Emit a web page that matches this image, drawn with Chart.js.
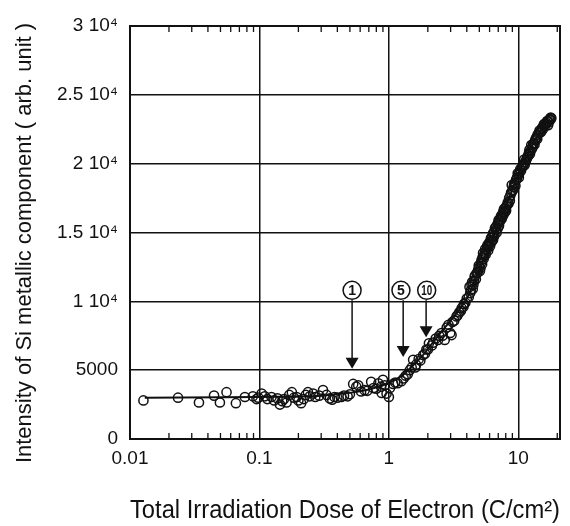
<!DOCTYPE html>
<html>
<head>
<meta charset="utf-8">
<script src="https://cdn.jsdelivr.net/npm/chart.js@4.4.0/dist/chart.umd.min.js"></script>
<style>
  body { margin: 0; background: #fff; }
  #wrap { width: 570px; height: 526px; }
</style>
</head>
<body>
<div id="wrap"><canvas id="myChart"></canvas></div>
<script>
// measured points (dose in C/cm2, intensity in arb. unit)
let doseX = [
  0.0127, 0.0235, 0.0341, 0.0446, 0.0495, 0.0557, 0.0658, 0.0772, 0.089, 0.095, 0.098,
  0.104, 0.11, 0.115, 0.124, 0.13, 0.138, 0.144, 0.15, 0.155, 0.162, 0.17, 0.178, 0.185, 0.194,
  0.2, 0.21, 0.22, 0.228, 0.237, 0.245, 0.26, 0.27, 0.29, 0.31, 0.33, 0.35, 0.365, 0.38, 0.4,
  0.43, 0.45, 0.48, 0.5, 0.53, 0.56, 0.58, 0.61, 0.65, 0.68, 0.73, 0.76, 0.8, 0.83, 0.87, 0.88,
  0.9, 0.93, 0.96, 1.0, 1.02,
  1.08, 1.12, 1.17, 1.25, 1.3, 1.35, 1.4, 1.45, 1.5, 1.54, 1.6, 1.62, 1.7, 1.75, 1.84, 1.9,
  1.95, 2.0, 2.04, 2.15, 2.2, 2.3, 2.4, 2.45, 2.55, 2.6, 2.7, 2.8,
  2.89, 2.98, 3.05, 3.1, 3.2, 3.33, 3.4, 3.5, 3.6, 3.65, 3.77, 3.8, 3.9, 4.0,
  4.14, 4.2, 4.3, 4.4, 4.5, 4.6, 4.7, 4.78, 4.9, 5.0, 5.1, 5.2, 5.3, 5.34, 5.45, 5.55, 5.69,
  5.8, 5.9, 6.0, 6.15, 6.25, 6.38, 6.38, 6.5, 6.6, 6.75, 6.9, 7.0, 7.1, 7.2, 7.35, 7.5, 7.65,
  7.8, 7.95, 8.1, 8.3, 8.5, 8.7, 8.9, 9.0, 9.2, 9.4, 9.6, 9.8, 10.0, 10.2, 10.5, 10.8, 11.0,
  11.2, 11.5, 11.8, 12.1, 12.3, 12.6, 12.9, 13.2, 13.5, 13.8, 14.1, 14.6, 15.0, 15.3, 15.7,
  16.0, 16.5, 16.9, 17.2, 17.5, 17.8,
  4.25, 4.35, 4.45, 4.55, 4.65, 4.85, 4.95, 5.05, 5.15, 5.25, 5.4, 5.5, 5.6, 5.75, 5.85, 5.95,
  6.05, 6.2, 6.3, 6.45, 6.55, 6.7, 6.8, 6.95, 7.05, 7.15, 7.3, 7.45, 7.6, 7.75, 7.9, 8.05,
  8.2, 8.4, 8.6, 8.8, 9.1, 9.3, 9.5, 9.7, 9.9, 10.1, 10.35, 10.6, 10.9, 11.1, 11.35, 11.65,
  11.95, 12.2, 12.45, 12.75, 13.0, 13.35, 13.65, 14.0, 14.35, 14.8, 15.1, 15.5, 15.9, 16.2,
  16.7, 17.0, 17.4, 17.7, 18.0
];
let intensityY = [
  2800, 3000, 2650, 3150, 2650, 3400, 2600, 3050, 3100, 2900, 3000,
  3300, 3100, 2900, 3050, 2800, 2950, 2500, 2750, 2900, 2650, 3200, 3400, 3000, 3050,
  2800, 2600, 2900, 3200, 3400, 3100, 3300, 3050, 3150, 3550, 3200, 2950, 2850, 3050, 3000,
  3050, 3150, 3100, 3250, 4000, 3800, 3900, 3450, 3550, 3500, 4150, 3700, 3650, 4050, 3800, 3350,
  4300, 3900, 3300, 3050, 3700,
  4000, 4100, 4050, 4200, 4400, 4600, 4700, 5000, 5200, 5750, 5200, 5400, 5800, 5700, 6100, 6200,
  6500, 6500, 6950, 6800, 7000, 7300, 7200, 7500, 7700, 7500, 7200, 8100,
  8300, 7700, 7550, 8500, 8600, 8900, 9000, 9200, 9300, 9500, 9600, 9800, 9900, 10200,
  10300, 11050, 10800, 11400, 11200, 11800, 11600, 12050, 12300, 12500, 12400, 13000, 13200, 13500, 13300, 13800, 13750,
  14100, 14000, 14300, 14600, 14400, 14450, 14950, 15000, 15300, 15200, 15600, 15700, 15500, 15900, 16200, 16300, 16500,
  16400, 16800, 16900, 17200, 17500, 17700, 18450, 18000, 18300, 18600, 18800, 19000, 19200, 19300, 19500, 19800, 20000,
  19900, 20250, 20500, 20800, 20700, 21350, 21200, 21500, 21700, 21900, 22100, 22400, 22300, 22600, 22800,
  22700, 22950, 23100, 23000, 23250, 23350,
  10600, 11200, 10900, 11500, 11900, 12100, 12600, 12200, 12800, 12700, 13100, 13500, 13400, 14000, 13700, 14200,
  14000, 14300, 14700, 14700, 14800, 15400, 15000, 15300, 15900, 15800, 15900, 16000, 16200, 16700, 16500, 16600,
  17000, 17100, 17300, 17900, 18100, 18500, 18400, 18900, 19300, 19000, 19600, 19700, 19900, 20300, 20100, 20400,
  20600, 21000, 20900, 21100, 21400, 21400, 21800, 21800, 22200, 22300, 22500, 22500, 22900, 22900,
  23100, 22800, 23150, 23200, 23300
];
// fitted curve drawn through the points
let fitX = [0.013, 0.1, 0.3, 0.5, 0.7, 0.9, 1.1, 1.3, 1.5, 1.8, 2.1, 2.5, 3, 3.5, 4, 5, 6, 7, 8, 10, 12, 14, 17];
let fitY = [3000, 3050, 3150, 3350, 3600, 3900, 4250, 4700, 5250, 6000, 6800, 7700, 8600, 9400, 10200, 12300, 14100, 15600, 16900, 19200, 20800, 22000, 23200];

let xTickVals = [0.01, 0.1, 1, 10];
let xTickLabels = ['0.01', '0.1', '1', '10'];
let yTickLabels = ['0', '5000', '1 10⁴', '1.5 10⁴', '2 10⁴', '2.5 10⁴', '3 10⁴'];
let yTitle = 'Intensity of Si metallic component ( arb. unit )';

// circled markers with arrows
let markLabels = ['1', '5', '10'];
let markX = [0.52, 1.24, 1.96];
let arrowX = [0.52, 1.29, 1.94];
let arrowTipY = [5100, 5950, 7400];
let markY = 10800;

const ink = '#111';
const fontFam = "'Liberation Sans', Arial, Helvetica, sans-serif";

function isMajor(v) {
  let l = Math.log10(v);
  return Math.abs(l - Math.round(l)) < 1e-6;
}

// all log ticks 1..9 per decade
let allTicks = [];
xTickVals.forEach(d => {
  for (let k = 1; k <= 9; k++) {
    if (d * k <= 21) allTicks.push(+(d * k).toPrecision(3));
  }
});

const framePlugin = {
  id: 'frame',
  afterDatasetsDraw(chart) {
    const {ctx, chartArea: a, scales: {x, y}} = chart;
    ctx.save();
    ctx.strokeStyle = ink;
    ctx.fillStyle = ink;
    // minor ticks top and bottom
    ctx.lineWidth = 1.3;
    allTicks.forEach(v => {
      if (isMajor(v)) return;
      const px = x.getPixelForValue(v);
      ctx.beginPath();
      ctx.moveTo(px, a.bottom); ctx.lineTo(px, a.bottom - 6);
      ctx.moveTo(px, a.top); ctx.lineTo(px, a.top + 6);
      ctx.stroke();
    });
    ctx.lineWidth = 2;
    ctx.strokeRect(a.left, a.top, a.right - a.left, a.bottom - a.top);

    markLabels.forEach((t, i) => {
      const cx = x.getPixelForValue(markX[i]);
      const cy = y.getPixelForValue(markY);
      const ax = x.getPixelForValue(arrowX[i]);
      const tip = y.getPixelForValue(arrowTipY[i]);
      ctx.fillStyle = '#fff';
      ctx.lineWidth = 1.5;
      ctx.beginPath(); ctx.arc(cx, cy, 9, 0, Math.PI * 2); ctx.fill(); ctx.stroke();
      ctx.fillStyle = ink;
      ctx.textAlign = 'center';
      ctx.textBaseline = 'middle';
      ctx.save();
      ctx.translate(cx, cy + 1);
      if (t.length > 1) {
        ctx.scale(0.7, 1);
      }
      ctx.font = 'bold 14px ' + fontFam;
      ctx.fillText(t, 0, 0);
      ctx.restore();
      ctx.lineWidth = 1.5;
      ctx.beginPath(); ctx.moveTo(ax, cy + 10); ctx.lineTo(ax, tip - 10); ctx.stroke();
      ctx.beginPath();
      ctx.moveTo(ax - 6.5, tip - 11); ctx.lineTo(ax + 6.5, tip - 11); ctx.lineTo(ax, tip);
      ctx.closePath(); ctx.fill();
    });

    // y axis title, a bit below the axis middle like the original
    ctx.save();
    ctx.translate(25, 243);
    ctx.rotate(-Math.PI / 2);
    ctx.font = '22px ' + fontFam;
    ctx.textAlign = 'center';
    ctx.textBaseline = 'middle';
    ctx.fillText(yTitle, 0, 0);
    ctx.restore();
    ctx.restore();
  }
};

const points = doseX.map((v, i) => ({x: v, y: intensityY[i]}));
const fit = fitX.map((v, i) => ({x: v, y: fitY[i]}));

const ctx = document.getElementById('myChart').getContext('2d');
const myChart = new Chart(ctx, {
  type: 'scatter',
  data: {
    datasets: [{
      data: fit,
      showLine: true,
      borderColor: ink,
      borderWidth: 2,
      pointRadius: 0,
      cubicInterpolationMode: 'monotone',
      order: 2
    }, {
      data: points,
      showLine: false,
      pointRadius: 4.6,
      pointBorderWidth: 1.5,
      pointBorderColor: ink,
      pointBackgroundColor: 'rgba(255,255,255,0)',
      order: 1
    }]
  },
  options: {
    responsive: true,
    maintainAspectRatio: false,
    animation: false,
    layout: { padding: { top: 26, right: 10, bottom: 0, left: 0 } },
    plugins: { legend: { display: false }, tooltip: { enabled: false } },
    scales: {
      x: {
        type: 'logarithmic',
        min: 0.01,
        max: 21,
        afterBuildTicks: s => { s.ticks = allTicks.map(v => ({value: v})); },
        afterFit: s => { s.height = 87; },
        grid: {
          color: c => (c.tick && isMajor(c.tick.value)) ? ink : 'rgba(0,0,0,0)',
          lineWidth: 1.5,
          drawTicks: false
        },
        border: { color: ink, width: 2 },
        ticks: {
          autoSkip: false,
          maxRotation: 0,
          padding: 8,
          color: ink,
          font: { family: fontFam, size: 19 },
          callback: v => {
            let i = xTickVals.findIndex(t => Math.abs(t - v) < 1e-9);
            return i >= 0 ? xTickLabels[i] : '';
          }
        },
        title: {
          display: true,
          text: 'Total Irradiation Dose of Electron (C/cm²)',
          color: ink,
          font: { family: fontFam, size: 25 },
          padding: { top: 0, bottom: 0 }
        }
      },
      y: {
        min: 0,
        max: 30000,
        afterFit: s => { s.width = 130; },
        grid: { color: ink, lineWidth: 1.5, drawTicks: false },
        border: { color: ink, width: 2 },
        ticks: {
          stepSize: 5000,
          padding: 12,
          color: ink,
          font: { family: fontFam, size: 19 },
          callback: (v, i) => yTickLabels[i]
        },
        title: { display: false }
      }
    }
  },
  plugins: [framePlugin]
});
</script>
</body>
</html>
